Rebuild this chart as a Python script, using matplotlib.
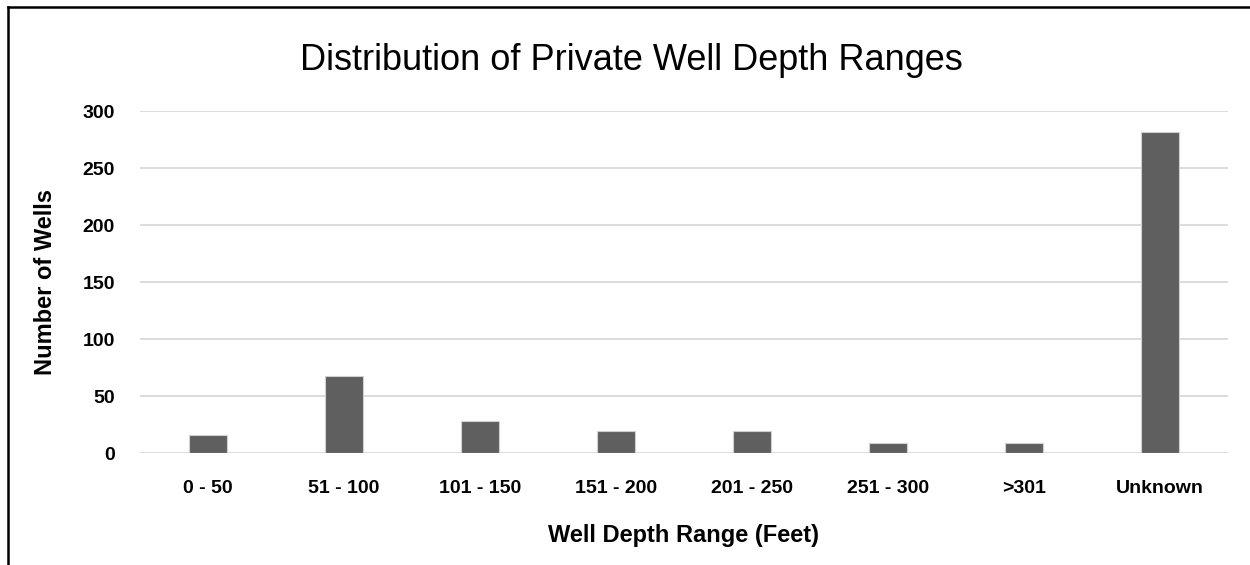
import matplotlib.pyplot as plt
from matplotlib.lines import Line2D

# Data
ranges = ['0 - 50', '51 - 100', '101 - 150', '151 - 200', '201 - 250', '251 - 300', '>301', 'Unknown']
wells = [16, 68, 28, 19, 19, 9, 9, 282]
yticks = [0, 50, 100, 150, 200, 250, 300]

plt.rcParams['font.family'] = ['Liberation Sans Narrow', 'Liberation Sans', 'DejaVu Sans']

fig = plt.figure(figsize=(12.5, 5.65), dpi=100)
ax = fig.add_axes([0.112, 0.198, 0.870, 0.6055])

x = list(range(len(ranges)))
ax.bar(x, wells, width=0.28, color='#5f5f5f', edgecolor='#d0d0d0', linewidth=0.8, zorder=3)

ax.set_xlim(-0.5, len(ranges) - 0.5)
ax.set_ylim(0, 300)
ax.set_yticks(yticks)
ax.set_xticks(x)
ax.set_xticklabels(ranges, fontsize=14, fontweight='bold')
ax.set_yticklabels([str(v) for v in yticks], fontsize=14, fontweight='bold')
ax.tick_params(axis='both', length=0)
ax.tick_params(axis='y', pad=18)
ax.tick_params(axis='x', pad=19)

# Light horizontal gridlines like Excel
ax.grid(axis='y', color='#d9d9d9', linewidth=1.3, zorder=0)
for s in ax.spines.values():
    s.set_visible(False)

# title is centred on the whole chart, not on the plot area
fig.text(0.505, 0.893, 'Distribution of Private Well Depth Ranges', fontsize=26,
         ha='center', va='center')
ax.set_xlabel('Well Depth Range (Feet)', fontsize=17, fontweight='bold', labelpad=20)
ax.set_ylabel('Number of Wells', fontsize=17, fontweight='bold', labelpad=18)

# Outer frame around the chart (left and top only are visible)
fig.add_artist(Line2D([0.0065, 0.0065], [0, 0.988], transform=fig.transFigure, color='black', linewidth=1.8))
fig.add_artist(Line2D([0.0065, 1.0], [0.988, 0.988], transform=fig.transFigure, color='black', linewidth=1.8))

fig.savefig('out.png', dpi=100)
